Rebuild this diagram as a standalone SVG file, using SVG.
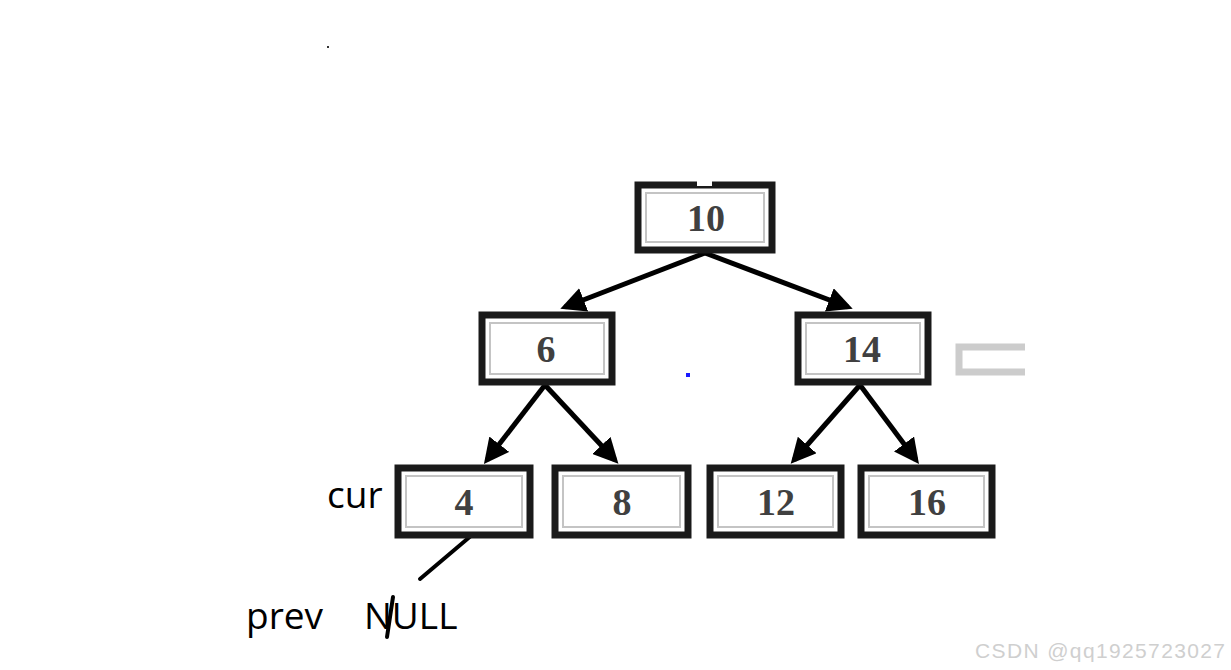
<svg xmlns="http://www.w3.org/2000/svg" width="1231" height="670" viewBox="0 0 1231 670">
<style>
.box{fill:#fff;stroke:#1a1a1a;stroke-width:7}
.inner{fill:none;stroke:#c4c4c4;stroke-width:2}
.num{font-family:"Liberation Serif",serif;font-weight:bold;font-size:38px;fill:#404040;text-anchor:middle}
.edge{stroke:#000;stroke-width:5;fill:none;marker-end:url(#ah)}
.lbl{font-family:"Open Sans","Noto Sans",sans-serif;font-size:37px;fill:#000}
</style>
<defs>
<marker id="ah" markerWidth="5" markerHeight="5" refX="4" refY="2.5" orient="auto" markerUnits="strokeWidth">
<path d="M0,0 L5,2.5 L0,5 Z" fill="#000"/>
</marker>
</defs>
<rect width="1231" height="670" fill="#fff"/>
<g id="edges">
<line class="edge" x1="705" y1="253" x2="565" y2="307"/>
<line class="edge" x1="705" y1="253" x2="848" y2="307"/>
<line class="edge" x1="545" y1="385" x2="487" y2="460"/>
<line class="edge" x1="545" y1="385" x2="615" y2="460"/>
<line class="edge" x1="860" y1="385" x2="794" y2="460"/>
<line class="edge" x1="860" y1="385" x2="916" y2="460"/>
<line x1="472" y1="535" x2="420" y2="579" stroke="#000" stroke-width="4" stroke-linecap="round"/>
</g>
<g id="n10"><rect class="box" x="638" y="185" width="134" height="65"/><rect class="inner" x="646" y="193" width="118" height="49"/><rect x="697" y="180" width="15" height="6" fill="#fff"/><text class="num" x="706" y="231">10</text></g>
<g id="n6"><rect class="box" x="482" y="315" width="130" height="67"/><rect class="inner" x="490" y="323" width="114" height="51"/><text class="num" x="546" y="362">6</text></g>
<g id="n14"><rect class="box" x="798" y="315" width="130" height="67"/><rect class="inner" x="806" y="323" width="114" height="51"/><text class="num" x="862" y="362">14</text></g>
<g id="n4"><rect class="box" x="398" y="468" width="132" height="67"/><rect class="inner" x="406" y="476" width="116" height="51"/><text class="num" x="464" y="515">4</text></g>
<g id="n8"><rect class="box" x="555" y="468" width="133" height="67"/><rect class="inner" x="563" y="476" width="117" height="51"/><text class="num" x="622" y="515">8</text></g>
<g id="n12"><rect class="box" x="710" y="468" width="131" height="67"/><rect class="inner" x="718" y="476" width="115" height="51"/><text class="num" x="776" y="515">12</text></g>
<g id="n16"><rect class="box" x="861" y="468" width="131" height="67"/><rect class="inner" x="869" y="476" width="115" height="51"/><text class="num" x="927" y="515">16</text></g>
<path d="M1025,347 H959 V372 H1025" fill="none" stroke="#cccccc" stroke-width="7"/>
<text class="lbl" x="327" y="508">cur</text>
<text class="lbl" x="246" y="629">prev</text>
<text class="lbl" x="364" y="629">NULL</text>
<line x1="393" y1="597" x2="387" y2="637" stroke="#000" stroke-width="4" stroke-linecap="round"/>
<rect x="327" y="46" width="2" height="2" fill="#333"/>
<rect x="686" y="373" width="4" height="4" fill="#1a1aff"/>
<text x="975" y="658" font-family="Liberation Sans,Arial,sans-serif" font-size="21" fill="#cfcfcf" textLength="250">CSDN @qq1925723027</text>
</svg>
